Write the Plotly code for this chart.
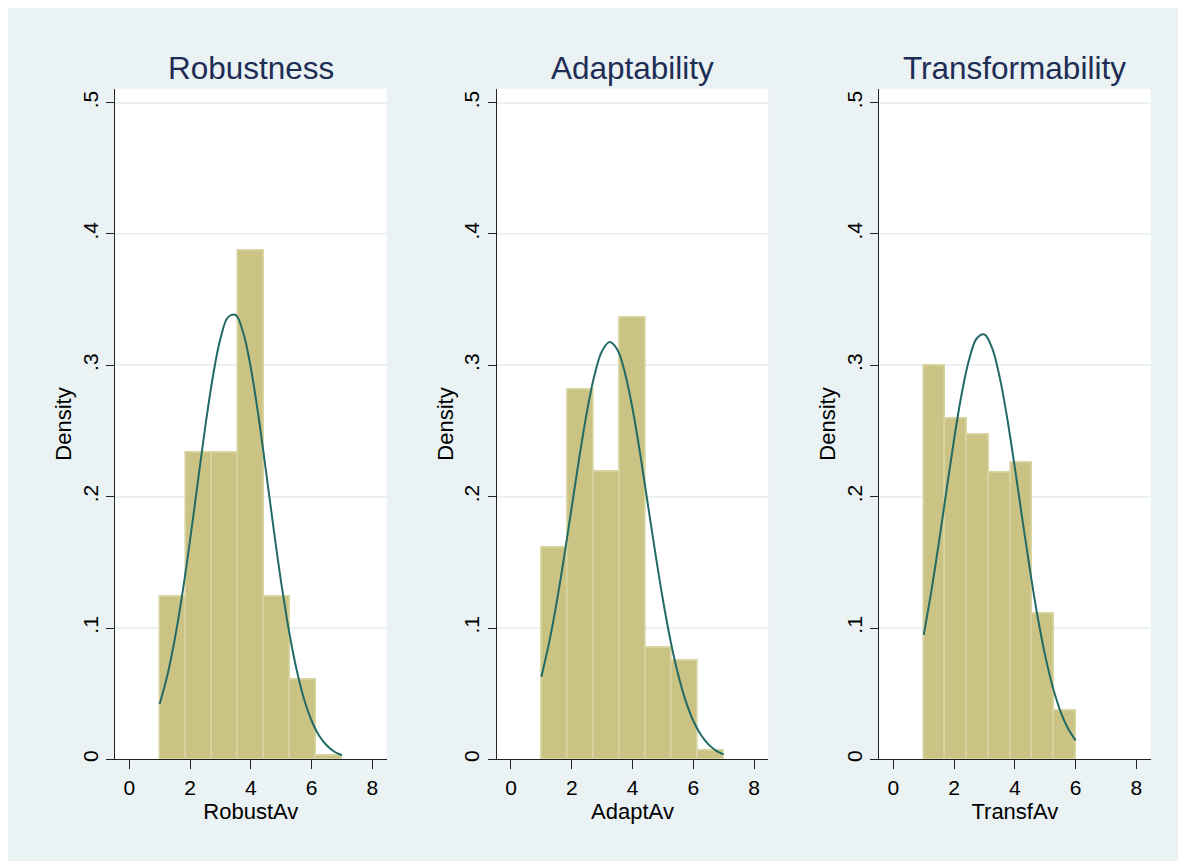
import numpy as np
import plotly.graph_objects as go

# ---------------- data ----------------
panel_titles = ["Robustness", "Adaptability", "Transformability"]
x_titles = ["RobustAv", "AdaptAv", "TransfAv"]

# histogram bin ranges (lo, hi) and number of bins
robust_bin_range = [1.0, 7.0]
adapt_bin_range = [1.0, 7.0]
transf_bin_range = [1.0, 6.0]
n_bins = 7

# bar densities
robust_density = [0.1235, 0.2334, 0.2334, 0.3875, 0.1235, 0.0608, 0.0030]
adapt_density = [0.1613, 0.2815, 0.2192, 0.3359, 0.0853, 0.0749, 0.0063]
transf_density = [0.3000, 0.2592, 0.2471, 0.2182, 0.2261, 0.1106, 0.0367]

# normal-density overlay, points
robust_curve_x = [1.00, 1.25, 1.50, 1.75, 2.00, 2.25, 2.50, 2.75, 3.00, 3.25, 3.50, 3.75,
                  4.00, 4.25, 4.50, 4.75, 5.00, 5.25, 5.50, 5.75, 6.00, 6.25, 6.50, 6.75, 7.00]
robust_curve_y = [0.0422, 0.0637, 0.0919, 0.1267, 0.1669, 0.2103, 0.2532, 0.2913, 0.3204,
                  0.3367, 0.3383, 0.3248, 0.2980, 0.2614, 0.2191, 0.1755, 0.1343, 0.0983,
                  0.0688, 0.0459, 0.0294, 0.0179, 0.0105, 0.0058, 0.0031]
adapt_curve_x = [1.00, 1.25, 1.50, 1.75, 2.00, 2.25, 2.50, 2.75, 3.00, 3.25, 3.50, 3.75,
                 4.00, 4.25, 4.50, 4.75, 5.00, 5.25, 5.50, 5.75, 6.00, 6.25, 6.50, 6.75, 7.00]
adapt_curve_y = [0.0629, 0.0883, 0.1190, 0.1542, 0.1921, 0.2299, 0.2646, 0.2926, 0.3110,
                 0.3177, 0.3120, 0.2944, 0.2671, 0.2329, 0.1951, 0.1572, 0.1217, 0.0905,
                 0.0648, 0.0445, 0.0294, 0.0187, 0.0114, 0.0067, 0.0038]
transf_curve_x = [1.00, 1.25, 1.50, 1.75, 2.00, 2.25, 2.50, 2.75, 3.00, 3.25, 3.50, 3.75,
                  4.00, 4.25, 4.50, 4.75, 5.00, 5.25, 5.50, 5.75, 6.00]
transf_curve_y = [0.0948, 0.1277, 0.1650, 0.2046, 0.2436, 0.2782, 0.3048, 0.3206, 0.3235,
                  0.3132, 0.2910, 0.2595, 0.2221, 0.1824, 0.1437, 0.1086, 0.0788, 0.0549,
                  0.0366, 0.0235, 0.0144]

x_tick_vals = [0, 2, 4, 6, 8]
x_tick_text = ["0", "2", "4", "6", "8"]
y_tick_vals = [0, 0.1, 0.2, 0.3, 0.4, 0.5]
y_tick_text = ["0", ".1", ".2", ".3", ".4", ".5"]
y_title = "Density"

# ---------------- styling ----------------
W, H = 1178, 853
BG = "#EAF2F3"
BAR_FILL = "#CAC383"
BAR_LINE = "#D9D5A3"
CURVE = "#226A65"
TITLE_COLOR = "#1E2D55"
AXIS_COLOR = "#222222"
FONT = "Liberation Sans, Arial, sans-serif"

x_domains_px = [(107, 378.7), (488.7, 760.3), (871, 1142.7)]
y_domain_px = (81, 754)

bins = [robust_bin_range, adapt_bin_range, transf_bin_range]
densities = [robust_density, adapt_density, transf_density]
curves = [(robust_curve_x, robust_curve_y), (adapt_curve_x, adapt_curve_y),
          (transf_curve_x, transf_curve_y)]

fig = go.Figure()
layout_axes = {}
annotations = []

y_dom = [1 - y_domain_px[1] / H, 1 - y_domain_px[0] / H]

for i in range(3):
    lo, hi = bins[i]
    edges = np.linspace(lo, hi, n_bins + 1)
    centers = (edges[:-1] + edges[1:]) / 2
    width = edges[1] - edges[0]
    xa = "x" if i == 0 else f"x{i+1}"
    ya = "y" if i == 0 else f"y{i+1}"
    fig.add_trace(go.Bar(
        x=centers, y=densities[i], width=width,
        marker=dict(color=BAR_FILL, line=dict(color=BAR_LINE, width=1.6)),
        xaxis=xa, yaxis=ya, showlegend=False, hoverinfo="x+y"))
    cx, cy = curves[i]
    fig.add_trace(go.Scatter(
        x=cx, y=cy, mode="lines", line=dict(color=CURVE, width=2, shape="spline"),
        xaxis=xa, yaxis=ya, showlegend=False))

    xd = [x_domains_px[i][0] / W, x_domains_px[i][1] / W]
    xkey = "xaxis" if i == 0 else f"xaxis{i+1}"
    ykey = "yaxis" if i == 0 else f"yaxis{i+1}"
    layout_axes[xkey] = dict(
        domain=xd, anchor=ya, range=[-0.47, 8.47],
        tickmode="array", tickvals=x_tick_vals, ticktext=x_tick_text,
        showgrid=False, zeroline=False,
        showline=True, linecolor=AXIS_COLOR, linewidth=1,
        ticks="outside", ticklen=9, tickwidth=1, tickcolor=AXIS_COLOR,
        tickfont=dict(family=FONT, size=21, color="#000"),
        title=dict(text=x_titles[i], font=dict(family=FONT, size=22, color="#000"),
                   standoff=2),
    )
    layout_axes[ykey] = dict(
        domain=y_dom, anchor=xa, range=[0, 0.5106],
        tickmode="array", tickvals=y_tick_vals, ticktext=y_tick_text,
        tickangle=-90,
        showgrid=True, gridcolor=BG, gridwidth=1.5, zeroline=False,
        showline=True, linecolor=AXIS_COLOR, linewidth=1,
        ticks="outside", ticklen=8, tickwidth=1, tickcolor=AXIS_COLOR,
        tickfont=dict(family=FONT, size=21, color="#000"),
        title=dict(text=y_title, font=dict(family=FONT, size=22, color="#000"),
                   standoff=0),
    )
    annotations.append(dict(
        text=panel_titles[i], x=(xd[0] + xd[1]) / 2, y=1 - 60 / H,
        xref="paper", yref="paper", xanchor="center", yanchor="middle",
        showarrow=False, font=dict(family=FONT, size=31.5, color=TITLE_COLOR)))

fig.update_layout(
    width=W, height=H, autosize=False,
    margin=dict(l=0, r=0, t=0, b=0),
    paper_bgcolor=BG, plot_bgcolor="white",
    bargap=0, barmode="overlay",
    annotations=annotations,
    font=dict(family=FONT),
    **layout_axes,
)

fig.write_html("out.html")
